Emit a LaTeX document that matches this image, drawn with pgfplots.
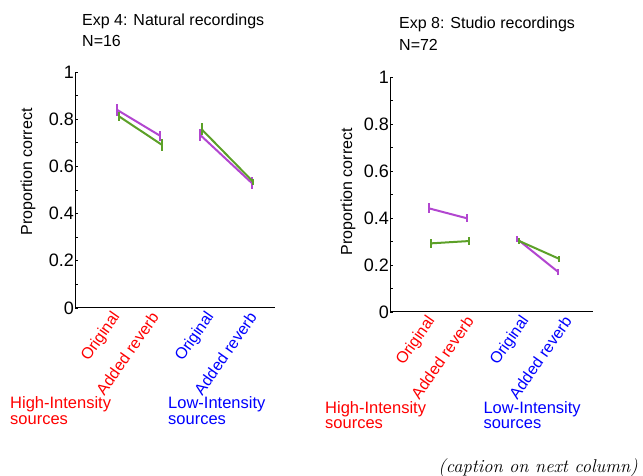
\documentclass[border=0pt]{standalone}
\usepackage{fontspec}
\setsansfont{Liberation Sans}
\renewcommand*\familydefault{\sfdefault}
\usepackage{pgfplots}
\pgfplotsset{compat=1.18}
\definecolor{mypurple}{RGB}{178,70,208}
\definecolor{mygreen}{RGB}{92,160,40}
\newcommand\fs[1]{\fontsize{#1}{#1}\selectfont}
\pgfplotsset{panel/.style={
  scale only axis, anchor=south west,
  axis x line=bottom, axis y line=left,
  axis line style={-, line width=1pt, black},
  ymin=0, ymax=1, xmin=0,
  ytick={0,0.2,0.4,0.6,0.8,1}, minor y tick num=1,
  tick align=inside, major tick length=3pt, minor tick length=3pt,
  y tick style={line width=0.8pt, black},
  xtick={42,80,136,178},
  xticklabels={\textcolor{red}{Original},\textcolor{red}{Added reverb},\textcolor{blue}{Original},\textcolor{blue}{Added reverb}},
  x tick style={draw=none},
  xticklabel style={rotate=55, anchor=east, inner sep=0pt, font=\fs{16}},
  xticklabel shift=6pt,
  yticklabel style={font=\fs{18}, inner sep=1pt},
  /pgf/number format/assume math mode=true,
  clip=false,
  purp/.style={mypurple, line width=2pt, mark=none, error bars/.cd, y dir=both, y explicit, error mark=none, error bar style={line width=2pt, mypurple}},
  gren/.style={mygreen, line width=2pt, mark=none, error bars/.cd, y dir=both, y explicit, error mark=none, error bar style={line width=2pt, mygreen}},
}}
\begin{document}
\begin{tikzpicture}
\useasboundingbox (0,0) rectangle (643pt,476pt);
% left panel
\begin{axis}[panel, at={(75pt,168pt)}, width=200pt, height=236pt, xmax=200]
\addplot[purp] coordinates {(42.3,0.839) +- (0,0.024) (85,0.730) +- (0,0.021)};
\addplot[purp] coordinates {(125,0.734) +- (0,0.026) (176.7,0.530) +- (0,0.024)};
\addplot[gren] coordinates {(44,0.812) +- (0,0.019) (86.7,0.692) +- (0,0.026)};
\addplot[gren] coordinates {(126.7,0.757) +- (0,0.025) (178.3,0.534) +- (0,0.014)};
\end{axis}
% right panel
\begin{axis}[panel, at={(390pt,164pt)}, width=203pt, height=235pt, xmax=203]
\addplot[purp] coordinates {(39,0.441) +- (0,0.021) (76.7,0.399) +- (0,0.018)};
\addplot[purp] coordinates {(127.3,0.310) +- (0,0.014) (167.7,0.172) +- (0,0.013)};
\addplot[gren] coordinates {(40.7,0.292) +- (0,0.018) (79.3,0.302) +- (0,0.016)};
\addplot[gren] coordinates {(129.3,0.302) +- (0,0.012) (169.3,0.226) +- (0,0.012)};
\end{axis}
% titles
\begin{scope}[every node/.style={anchor=base west, inner sep=0pt, font=\fs{16}}]
\node at (82pt,450pt) {Exp 4: Natural recordings};
\node at (82pt,429.3pt) {N=16};
\node at (399pt,447pt) {Exp 8: Studio recordings};
\node at (399pt,425.3pt) {N=72};
\end{scope}
\node[rotate=90, font=\fs{16}, inner sep=0pt] at (28pt,304pt) {Proportion correct};
\node[rotate=90, font=\fs{16}, inner sep=0pt] at (348pt,284.3pt) {Proportion correct};
% group labels
\begin{scope}[every node/.style={anchor=base west, inner sep=0pt, font=\fs{16.5}}]
\node[red] at (10pt,67pt) {High-Intensity};
\node[red] at (10pt,51.5pt) {sources};
\node[blue] at (168pt,67pt) {Low-Intensity};
\node[blue] at (168pt,51.5pt) {sources};
\node[red] at (325pt,62pt) {High-Intensity};
\node[red] at (325pt,47pt) {sources};
\node[blue] at (483.3pt,62pt) {Low-Intensity};
\node[blue] at (483.3pt,47pt) {sources};
\end{scope}
\node[anchor=base east, inner sep=0pt, font=\rmfamily\itshape\fs{18.5}] at (638pt,3pt) {(caption on next column)};
\end{tikzpicture}
\end{document}
